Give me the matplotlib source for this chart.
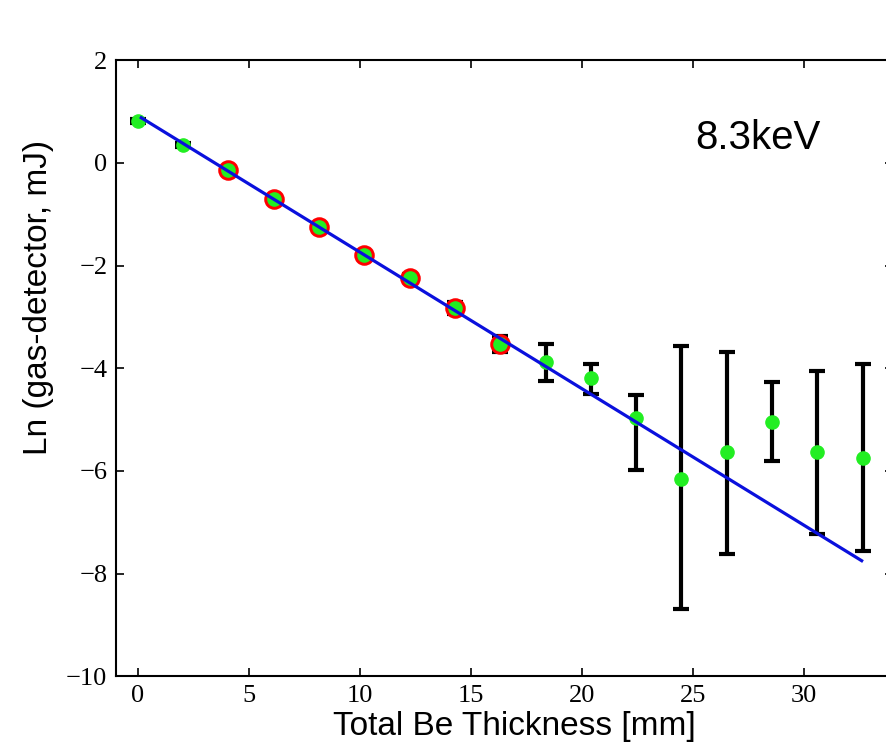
import matplotlib
matplotlib.use("Agg")
import matplotlib.pyplot as plt

# measured points (Be thickness in mm, ln of gas-detector energy)
thickness = [0.0, 2.04, 4.08, 6.12, 8.16, 10.2, 12.24, 14.28, 16.32,
             18.36, 20.4, 22.44, 24.48, 26.52, 28.56, 30.6, 32.64]
ln_energy = [0.82, 0.35, -0.14, -0.70, -1.25, -1.80, -2.25, -2.83, -3.53,
             -3.88, -4.20, -4.97, -6.16, -5.63, -5.05, -5.63, -5.75]
err_low = [0.04, 0.04, 0.05, 0.05, 0.05, 0.06, 0.08, 0.12, 0.15,
           0.37, 0.30, 1.01, 2.54, 1.99, 0.76, 1.60, 1.81]
err_high = [0.04, 0.04, 0.05, 0.05, 0.05, 0.06, 0.08, 0.12, 0.15,
            0.35, 0.28, 0.45, 2.59, 1.95, 0.78, 1.58, 1.83]

# points that are also marked with red circles
circled_x = thickness[2:9]
circled_y = ln_energy[2:9]

# linear fit line end points
fit_x = [0.15, 32.6]
fit_y = [0.88, -7.75]

fig = plt.figure(figsize=(8.86, 7.53), dpi=100)
ax = fig.add_axes([0.1306, 0.102, 0.877, 0.818])

ax.errorbar(thickness, ln_energy, yerr=[err_low, err_high], fmt="none",
            ecolor="black", elinewidth=3, capsize=6, capthick=3, zorder=2)
ax.plot(circled_x, circled_y, "o", markersize=12, markerfacecolor="none",
        markeredgecolor="red", markeredgewidth=2.8, zorder=3)
ax.plot(thickness, ln_energy, "o", color="#22ee22", markersize=9.5, zorder=4)
ax.plot(fit_x, fit_y, color="#0a10dd", linewidth=2.3, zorder=5)

ax.set_xlim(-1, 34)
ax.set_ylim(-10, 2)
ax.set_xticks([0, 5, 10, 15, 20, 25, 30])
ax.set_yticks([-10, -8, -6, -4, -2, 0, 2])

ax.tick_params(direction="in", top=True, right=True, length=6, width=1.2,
               labelsize=19, pad=6)
for lab in ax.get_xticklabels() + ax.get_yticklabels():
    lab.set_family("Liberation Serif")
for sp in ax.spines.values():
    sp.set_linewidth(1.5)

ax.set_xlabel("Total Be Thickness [mm]", family="Liberation Sans", fontsize=24)
ax.set_ylabel("Ln (gas-detector, mJ)", family="Liberation Sans", fontsize=24)
ax.xaxis.set_label_coords(0.513, -0.056)
ax.yaxis.set_label_coords(-0.08, 0.615)
ax.text(25.1, 0.27, "8.3keV", family="Liberation Sans", fontsize=29)

fig.savefig("out.png", dpi=100)
